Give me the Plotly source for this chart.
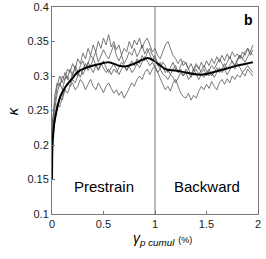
import numpy as np
import plotly.graph_objects as go

STEP = 0.025
trace_a = [0.22,0.27,0.29,0.285,0.30,0.295,0.31,0.305,0.318,0.31,0.325,0.318,0.333,0.325,0.34,0.33,0.345,0.335,0.35,0.34,
           0.355,0.345,0.36,0.342,0.35,0.338,0.345,0.33,0.34,0.335,0.35,0.34,0.352,0.345,0.355,0.34,0.35,0.355,0.345,0.335,
           0.34,0.33,0.325,0.335,0.345,0.35,0.34,0.33,0.325,0.318,0.325,0.315,0.32,0.31,0.318,0.308,0.315,0.31,0.32,0.312,
           0.322,0.315,0.325,0.318,0.328,0.32,0.33,0.322,0.332,0.325,0.335,0.328,0.332,0.325,0.335,0.33,0.34,0.335,0.345]
trace_b = [0.21,0.25,0.275,0.29,0.28,0.295,0.30,0.29,0.305,0.31,0.30,0.315,0.322,0.31,0.318,0.33,0.325,0.335,0.32,0.33,
           0.338,0.33,0.325,0.335,0.345,0.33,0.322,0.33,0.318,0.325,0.335,0.33,0.34,0.328,0.335,0.345,0.332,0.34,0.33,0.322,
           0.33,0.318,0.31,0.32,0.315,0.305,0.312,0.32,0.31,0.305,0.315,0.322,0.318,0.31,0.302,0.31,0.318,0.312,0.305,0.31,
           0.30,0.308,0.315,0.31,0.318,0.325,0.318,0.312,0.32,0.328,0.32,0.315,0.322,0.33,0.325,0.32,0.328,0.335,0.33]
trace_c = [0.20,0.24,0.26,0.255,0.27,0.28,0.275,0.285,0.29,0.28,0.285,0.295,0.29,0.28,0.288,0.295,0.285,0.28,0.29,0.283,
           0.276,0.285,0.29,0.282,0.275,0.28,0.272,0.278,0.268,0.275,0.282,0.29,0.285,0.295,0.30,0.295,0.305,0.31,0.302,0.31,
           0.315,0.305,0.295,0.288,0.28,0.285,0.278,0.29,0.295,0.285,0.275,0.27,0.268,0.275,0.265,0.272,0.268,0.278,0.285,0.28,
           0.288,0.282,0.292,0.285,0.28,0.29,0.295,0.288,0.296,0.29,0.30,0.295,0.302,0.298,0.305,0.30,0.31,0.305,0.30]
trace_d = [0.23,0.26,0.285,0.30,0.29,0.305,0.295,0.31,0.30,0.315,0.305,0.298,0.31,0.318,0.308,0.315,0.325,0.315,0.308,0.315,
           0.322,0.312,0.305,0.312,0.318,0.31,0.302,0.31,0.315,0.308,0.315,0.322,0.315,0.325,0.318,0.33,0.322,0.335,0.34,0.33,
           0.325,0.315,0.32,0.312,0.305,0.31,0.302,0.31,0.315,0.305,0.31,0.30,0.305,0.295,0.30,0.31,0.302,0.295,0.302,0.298,
           0.305,0.31,0.30,0.305,0.312,0.305,0.31,0.318,0.31,0.315,0.322,0.315,0.325,0.33,0.325,0.335,0.34,0.33,0.338]
trace_e = [0.19,0.23,0.255,0.27,0.265,0.28,0.29,0.285,0.295,0.29,0.30,0.31,0.302,0.31,0.32,0.312,0.305,0.315,0.31,0.318,
           0.312,0.305,0.31,0.302,0.31,0.305,0.312,0.32,0.315,0.308,0.315,0.305,0.31,0.318,0.312,0.32,0.328,0.322,0.315,0.32,
           0.312,0.305,0.31,0.303,0.30,0.295,0.302,0.298,0.29,0.298,0.305,0.30,0.31,0.305,0.298,0.305,0.31,0.302,0.308,0.315,
           0.308,0.30,0.305,0.298,0.305,0.312,0.305,0.31,0.302,0.308,0.315,0.31,0.318,0.312,0.305,0.31,0.315,0.31,0.305]
gray_traces = [trace_a, trace_b, trace_c, trace_d, trace_e]

mean_x = [0, 0.005, 0.02, 0.045, 0.08, 0.13, 0.2, 0.25, 0.3, 0.35, 0.45, 0.55, 0.65, 0.72, 0.8, 0.87, 0.93, 1.0,
          1.1, 1.2, 1.3, 1.42, 1.5, 1.6, 1.7, 1.8, 1.92, 1.95]
mean_y = [0.15, 0.2, 0.23, 0.25, 0.27, 0.284, 0.297, 0.306, 0.31, 0.313, 0.317, 0.32, 0.315, 0.314, 0.318, 0.323, 0.326, 0.321,
          0.31, 0.308, 0.305, 0.302, 0.303, 0.307, 0.311, 0.315, 0.319, 0.32]

x_ticks = [0, 0.5, 1, 1.5, 2]
x_tick_text = ["0", "0.5", "1", "1.5", "2"]
y_ticks = [0.1, 0.15, 0.2, 0.25, 0.3, 0.35, 0.4]
y_tick_text = ["0.1", "0.15", "0.2", "0.25", "0.3", "0.35", "0.4"]

FONT = "Liberation Sans, Arial, sans-serif"
fig = go.Figure()
for tr in gray_traces:
    xs = np.arange(len(tr)) * STEP
    fig.add_trace(go.Scatter(x=xs, y=tr, mode="lines",
                             line=dict(color="rgba(80,80,80,0.85)", width=0.9), hoverinfo="skip"))
fig.add_trace(go.Scatter(x=mean_x, y=mean_y, mode="lines",
                         line=dict(color="black", width=2, shape="spline", smoothing=0.8)))
fig.add_shape(type="line", x0=1, x1=1, y0=0.1, y1=0.4, xref="x", yref="y",
              line=dict(color="#777", width=1))
fig.add_annotation(x=0.5, y=0.14, xref="x", yref="y", text="Prestrain", showarrow=False,
                   font=dict(family=FONT, size=15, color="black"))
fig.add_annotation(x=1.5, y=0.14, xref="x", yref="y", text="Backward", showarrow=False,
                   font=dict(family=FONT, size=15, color="black"))
fig.add_annotation(x=0.985, y=0.985, xref="paper", yref="paper", text="<b>b</b>", showarrow=False,
                   xanchor="right", yanchor="top", font=dict(family=FONT, size=14, color="black"))
fig.add_annotation(x=0.383, y=-0.07, xref="paper", yref="paper",
                   text="<i>γ</i><sub><i>p cumul</i></sub> <span style='font-size:9px'>(%)</span>",
                   showarrow=False, xanchor="left", yanchor="top",
                   font=dict(family=FONT, size=14, color="black"))
fig.add_annotation(x=-0.19, y=0.5, xref="paper", yref="paper", text="<i>κ</i>", textangle=-90,
                   showarrow=False, xanchor="center", yanchor="middle",
                   font=dict(family=FONT, size=15, color="black"))

axis_common = dict(showgrid=False, zeroline=False, showline=True, linecolor="#777", linewidth=1,
                   mirror=True, ticks="inside", ticklen=3, tickcolor="#777", automargin=False,
                   tickfont=dict(family=FONT, size=11, color="#222"))
fig.update_xaxes(range=[0, 2], tickvals=x_ticks, ticktext=x_tick_text, **axis_common)
fig.update_yaxes(range=[0.1, 0.4], tickvals=y_ticks, ticktext=y_tick_text, **axis_common)
fig.update_layout(width=266, height=259, margin=dict(l=52, r=8, t=7, b=45),
                  plot_bgcolor="white", paper_bgcolor="white", showlegend=False)
fig.write_html("out.html", config={"displayModeBar": False},
               post_script="document.body.style.margin='0';")
